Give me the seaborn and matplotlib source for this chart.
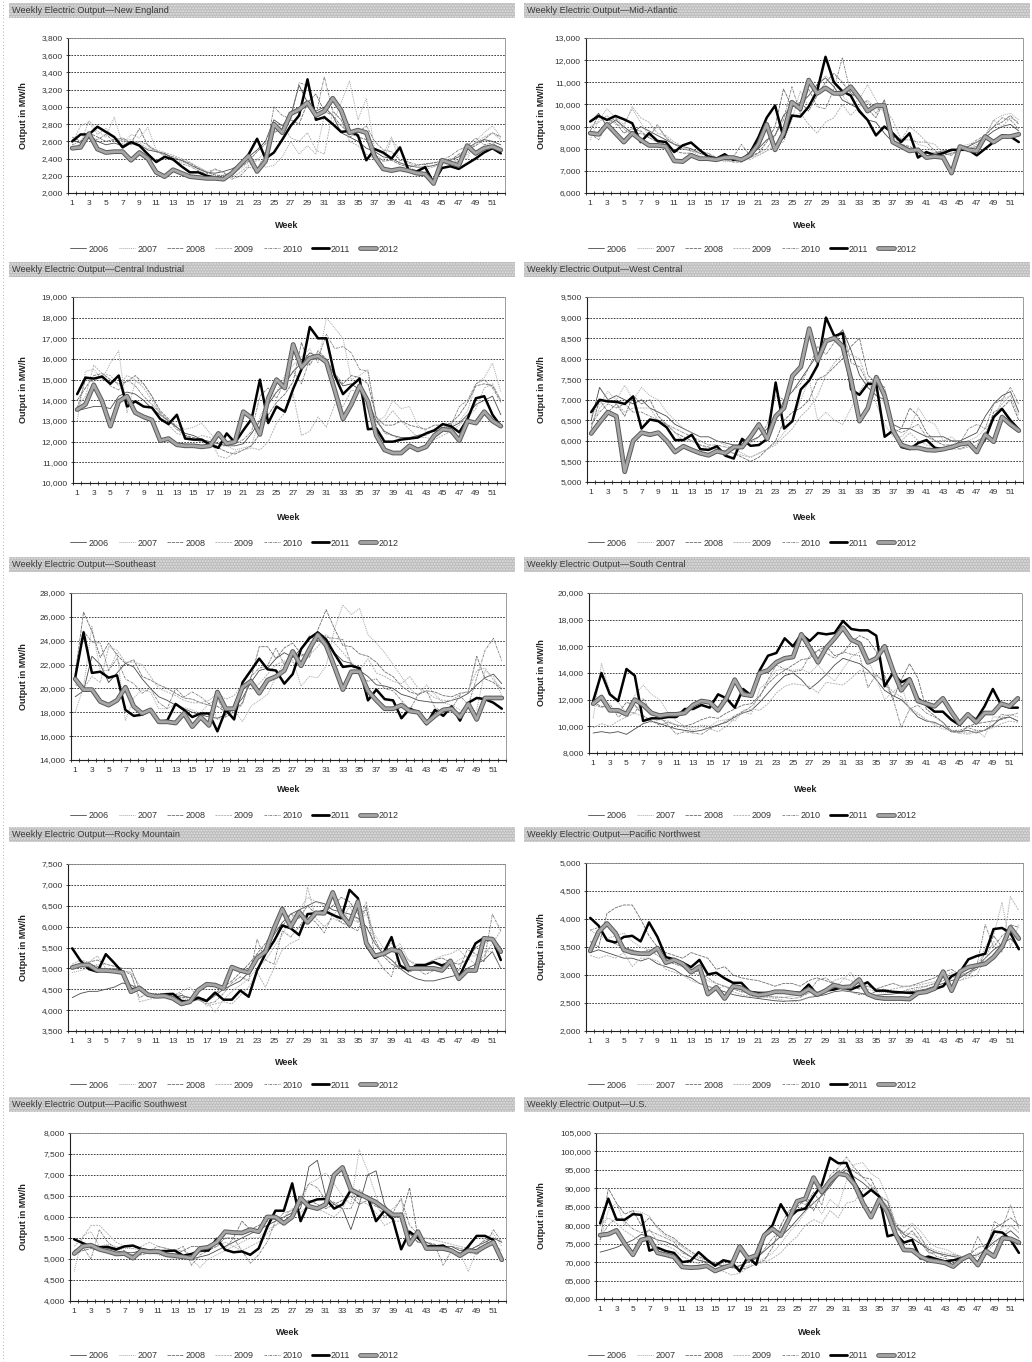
import numpy as np
import matplotlib
matplotlib.use("Agg")
import matplotlib.pyplot as plt
import matplotlib.patheffects as pe
from matplotlib.patches import Rectangle
from matplotlib.lines import Line2D
from matplotlib.ticker import FuncFormatter
import seaborn as sns

# -----------------------------------
# DATA (weekly output, MW/h)
# -----------------------------------

years = [2006, 2007, 2008, 2009, 2010, 2011, 2012]
week_ticks = list(range(1, 52, 2))

ne_2006 = [2620,2580,2640,2600,2560,2580,2550,2600,2560,2500,2480,2460,2400,2380,2330,2280,2240,2230,2250,2280,2330,2420,2500,2600,2850,2780,2900,3250,3050,2950,3000,2900,2700,2650,2600,2520,2480,2420,2400,2350,2320,2300,2300,2320,2350,2380,2420,2520,2580,2620,2600,2560]
ne_2007 = [2500,2580,2840,2720,2650,2880,2560,2680,2640,2760,2500,2420,2380,2360,2330,2300,2250,2200,2210,2230,2280,2350,2400,2300,2320,2420,2600,2450,2550,2450,2900,2800,3050,3300,2850,3100,2500,2450,2650,2350,2300,2260,2320,2310,2340,2330,2380,2400,2600,2700,2780,2650]
ne_2008 = [2650,2600,2700,2650,2600,2620,2640,2580,2750,2550,2480,2450,2420,2380,2350,2290,2240,2210,2200,2240,2300,2370,2480,2570,2700,2750,2850,2800,3050,3150,2950,2900,2780,2700,2650,2620,2450,2370,2380,2330,2300,2320,2340,2350,2360,2380,2450,2500,2550,2620,2700,2650]
ne_2009 = [2580,2780,2820,2680,2750,2640,2600,2620,2580,2520,2500,2470,2440,2400,2360,2300,2250,2270,2240,2180,2240,2320,2380,2480,2700,2800,2640,2600,2700,2500,2450,2950,2850,2600,2550,2450,2400,2380,2620,2500,2350,2300,2280,2300,2350,2400,2360,2450,2580,2650,2700,2620]
ne_2010 = [2560,2600,2650,2620,2680,2600,2620,2560,2600,2560,2490,2440,2380,2340,2310,2260,2220,2280,2240,2160,2200,2300,2280,2440,3000,2900,2860,3280,3250,2900,3350,2950,2850,2650,2700,2780,2600,2500,2480,2380,2360,2330,2330,2350,2380,2430,2500,2540,2640,2560,2580,2520]
ne_2011 = [2600,2680,2680,2770,2710,2650,2530,2590,2550,2450,2360,2420,2390,2310,2240,2240,2200,2180,2170,2220,2320,2450,2630,2400,2470,2620,2780,2900,3320,2850,2880,2800,2710,2720,2670,2380,2510,2470,2400,2530,2270,2250,2300,2120,2290,2310,2280,2340,2400,2470,2520,2460]
ne_2012 = [2520,2530,2690,2510,2470,2480,2480,2380,2470,2400,2240,2190,2270,2230,2190,2180,2170,2170,2160,2230,2330,2430,2250,2370,2800,2700,2920,2970,3050,2900,2950,3100,2960,2700,2730,2700,2420,2280,2260,2280,2260,2230,2220,2110,2380,2350,2320,2550,2460,2520,2540,2500]

ma_2006 = [9200,9600,9000,9300,9000,8700,9000,8800,8600,8400,8200,8100,8000,7800,7700,7600,7500,7500,7600,7700,8000,8400,8600,9500,9900,10000,10400,10900,11200,10800,10200,10000,9800,9300,9200,8700,8300,8200,8000,7900,7800,7800,7900,7900,8000,8100,8300,8500,8800,9000,9100,8800]
ma_2007 = [8400,9300,9800,9400,9100,9800,9200,8600,9000,8500,8200,8000,7900,7700,7800,7600,7400,7500,7400,7600,7700,7900,8200,8300,9300,10600,9900,10800,11300,11000,10400,10000,10200,10900,10200,9600,8600,8400,8600,8200,8100,7800,7800,7700,8100,8200,8300,8600,9300,9500,9600,9300]
ma_2008 = [8800,9500,9300,9200,8700,8900,8800,8500,8300,8200,7900,7800,7800,7600,7600,7500,7500,7400,7400,7600,7800,8300,9000,10700,9900,10100,9700,10400,11000,11400,11000,10500,10300,9800,9400,10200,8600,8200,8100,7900,7700,7700,7700,7800,7900,8000,8100,8600,9000,9200,9500,9100]
ma_2009 = [9000,9200,9500,9100,9000,9900,9400,9200,8700,8600,8300,8100,7900,7800,7700,7600,7500,7500,7600,7500,7700,7900,8100,8700,9400,9600,9100,8700,9200,9400,10000,9500,9900,10200,9800,9800,9300,8400,9000,8700,8300,8200,7800,7800,7900,8000,8200,8500,9300,9000,9400,9200]
ma_2010 = [8700,8400,9100,9400,8900,8600,8700,8500,9100,8500,8200,8000,7900,7900,7800,7600,7600,7600,8200,7700,7800,8000,8600,9300,10800,9600,10700,9900,9800,10700,12100,10500,10200,10100,9600,10200,8700,8400,8400,8300,8300,7900,7800,7700,8000,8100,8400,8600,9000,9400,9300,8900]
ma_2011 = [9230,9480,9300,9480,9330,9150,8300,8700,8350,8300,7850,8150,8280,7950,7650,7550,7750,7500,7500,7800,8500,9400,9950,8500,9500,9450,9900,10600,12150,11000,10600,10400,9700,9300,8600,9000,8700,8300,8700,7600,7850,7700,7800,7950,7950,7950,7700,8000,8300,8600,8550,8300]
ma_2012 = [8700,8650,9100,8700,8300,8700,8400,8150,8150,8100,7450,7420,7700,7550,7550,7500,7600,7600,7500,7700,8200,9100,7950,8700,10100,9800,11100,10500,10750,10500,10500,10800,10300,9700,9950,9950,8300,8100,7900,7950,7600,7650,7600,6900,8100,7950,7900,8550,8300,8550,8550,8650]

ci_2006 = [13500,13600,13700,13700,13600,14200,14400,14300,14000,13600,13300,13000,12700,12400,12300,12100,12000,11900,11800,11800,11900,12400,13000,13800,14400,14800,15400,15800,16300,16100,15900,15200,14700,14800,14500,14000,13000,12500,12300,12200,12200,12300,12400,12500,12600,12700,12900,13300,13800,14000,14200,13300]
ci_2007 = [13000,15400,15500,15000,15800,16400,13400,14900,14800,14200,13300,13000,12800,12600,12700,12900,12400,12000,11800,11600,11700,11800,13200,14000,14400,15200,15700,16100,16500,15800,18000,17500,17000,15000,15200,15500,13000,13200,14000,13600,13700,12800,12500,12500,12600,12800,13000,13500,14800,15100,15800,14400]
ci_2008 = [14000,14600,15200,15300,15000,14800,14900,15200,14800,14200,13500,13100,12700,12300,12200,12100,12000,11700,11500,11400,11600,11800,12400,13300,13900,14300,14900,16800,15700,16400,16000,15300,14800,15200,15100,14800,13200,12800,12800,13000,12800,12700,12600,12800,12800,12900,13300,13900,14700,14800,14700,14000]
ci_2009 = [13700,14200,15700,15300,15200,14700,15200,15000,14600,14000,13400,12800,12400,12300,12100,12300,12200,11300,11200,11500,11600,11700,11600,12000,12900,13400,14300,12300,12500,13200,12700,13800,13700,14500,14400,13600,12800,13000,13500,13000,12600,12200,12200,12100,12300,12500,12800,13200,13600,14600,14800,14000]
ci_2010 = [13600,15000,14900,15200,14700,14500,15000,14700,14200,13800,13400,13000,12600,12300,12100,12000,11900,11800,11800,11900,12100,12500,14200,14600,14100,14900,15400,14800,16000,16000,17200,16500,16600,16300,15500,15400,13200,12400,12300,12100,12100,12300,12300,12600,12700,12800,13700,14000,14800,15000,14600,13900]
ci_2011 = [14300,15100,15050,15150,14800,15200,13700,13950,13700,13650,13100,12850,13300,12150,12100,12100,11850,11700,12400,11950,12550,13100,15000,12900,13700,13450,14550,15500,17550,17000,17000,15200,14300,14700,15050,12600,12650,12000,12000,12100,12150,12200,12400,12550,12850,12750,12450,13100,14100,14200,13300,12750]
ci_2012 = [13550,13800,14750,13950,12750,13950,14200,13400,13200,13050,12050,12150,11850,11800,11800,11750,11800,12400,11900,12000,13450,13150,12350,14100,15000,14600,16700,15600,16050,16150,15850,14500,13100,13800,14700,13950,12300,11600,11450,11450,11800,11600,11750,12300,12600,12550,12050,13000,12900,13450,13000,12750]

wc_2006 = [6500,7300,7000,7100,7000,6900,7000,6800,6700,6600,6400,6300,6200,6100,6100,6000,5950,5900,5900,6000,6100,6300,6500,7000,7200,7500,7800,8100,8400,8500,8700,8200,7600,7300,7100,7000,6400,6300,6300,6200,6100,6100,6100,6000,6000,6100,6200,6600,6900,7100,7200,6700]
wc_2007 = [6600,6900,7200,7000,7350,7000,7300,7100,7000,6700,6500,6300,6200,6100,6100,6000,5900,5800,5700,5600,5700,5800,5950,6200,6500,7000,7500,6500,6700,6500,6400,6800,7200,7500,6900,6400,6100,6100,6300,6800,6500,6400,6000,6100,5900,6000,6100,6300,6500,7000,7100,6900]
wc_2008 = [6300,7000,6700,6900,6600,7100,6900,7000,6600,6400,6200,6100,6000,5900,5850,5800,5750,5700,5600,5500,5600,5800,6000,6500,6700,6800,7000,7500,7600,7800,8000,8300,8500,7600,7400,7100,6200,6300,6800,6600,6200,6000,5900,5900,5800,5900,6000,6100,6700,6800,7000,6500]
wc_2009 = [6400,6800,7000,6900,6700,6800,6800,6800,6500,6400,6200,6000,6000,5900,5800,5800,5750,5700,5650,5600,5700,5800,5900,6100,6300,6600,6800,7100,7600,7900,8100,8100,8000,7400,7200,6900,6200,6000,6200,6000,5900,5850,5800,5800,5800,5850,5900,6200,6600,6900,7100,6600]
wc_2010 = [6400,6700,6900,6800,6900,6700,6700,6600,6500,6400,6300,6200,6100,6000,5900,5900,5850,5800,5900,5950,6100,6400,7100,7000,7200,7400,7800,8300,8100,8400,8700,7900,7800,7400,7500,7300,6300,6200,6300,6400,6100,6000,6000,6000,5950,6300,6400,6300,6900,7000,7300,6900]
wc_2011 = [6700,7000,6960,6950,6900,7080,6300,6520,6480,6330,6020,6020,6150,5800,5780,5870,5640,5570,6050,5880,5900,6050,7420,6300,6480,7250,7470,7840,9000,8550,8620,7250,7120,7390,7380,6100,6250,5850,5800,5950,6020,5830,5800,5830,5900,5950,5750,6050,6580,6780,6500,6280]
wc_2012 = [6180,6450,6700,6600,5250,6000,6200,6150,6200,6000,5730,5870,5780,5700,5650,5750,5700,5850,5850,6100,6400,6050,6600,6800,7580,7800,8730,7950,8430,8500,8300,7480,6480,6800,7550,7100,6250,5900,5830,5830,5780,5770,5800,5850,5920,5950,5730,6150,5980,6580,6400,6250]

se_2006 = [19300,19800,22700,22000,20500,21300,22100,21800,20800,20000,19300,19000,18600,18300,18000,17800,17600,17500,17800,18300,19200,20500,21500,21700,22500,23000,22600,23300,24400,24000,23800,23000,22300,22100,21500,21000,20300,20200,20000,19500,19300,19000,18900,18800,18800,19000,19200,19600,20300,20900,21200,20400]
se_2007 = [18000,20100,25200,21500,21500,23000,17300,19200,19900,19700,18300,18300,18700,18400,18200,17900,18800,17400,17600,18200,17200,18500,19000,19500,21000,22200,22400,20200,21000,20900,21900,25000,27000,26200,26700,24500,23800,23000,22000,21000,20000,19400,20300,19500,18800,18600,18200,18000,18200,21500,21000,19400]
se_2008 = [21200,26400,24800,22600,23800,22800,22100,22400,21000,20700,20300,20000,19600,19200,19100,18800,18600,18500,18000,18200,18800,20800,23500,23500,22500,23400,23800,22900,22600,24900,26600,25000,23600,23500,22900,22700,22200,21400,21000,20200,19700,19500,19800,19700,19400,19300,19600,19700,22700,20800,20500,19900]
se_2009 = [20300,20000,21000,20500,23500,23200,22200,22200,22000,21000,20000,19700,19400,19000,18800,18800,19000,19600,19100,19400,20300,19900,20400,21200,22000,22300,22200,21800,22800,23500,24500,23800,23000,22200,21500,22500,21300,21000,20600,20400,21000,20000,19700,19200,19000,19000,19500,19800,21500,21700,20700,20000]
se_2010 = [21000,24800,23900,23800,21500,22500,20800,20400,19600,20000,18800,18300,20000,19300,19700,19300,18700,19200,17600,18000,18700,21000,21700,21900,23400,22000,23000,22700,23200,24700,24300,24200,24100,22000,21100,20600,20800,20000,19800,19000,18200,19500,19800,18400,18000,18300,19400,18600,20900,23200,24200,22300]
se_2011 = [20900,24700,21300,21400,20900,21100,18200,17700,17800,18200,17200,17300,18700,18200,17600,17900,17900,16400,18200,17400,20500,21500,22500,21600,21500,20400,21200,23300,24200,24700,24100,22900,21800,21900,21700,19000,19900,19100,19000,17500,18300,18000,17000,18200,17700,18500,17300,18800,19200,19100,18800,18300]
se_2012 = [20800,19900,19900,18900,18600,19000,20100,18500,17900,18200,17200,17200,17100,17900,16800,17600,16900,19700,18300,18300,20100,20600,19600,20700,21000,21500,23100,21900,23300,24500,23600,21800,19900,21400,21400,19800,19000,18300,18300,18600,18100,18000,17100,17700,18200,18300,17600,18700,17400,19200,19200,19200]

sc_2006 = [9500,9600,9500,9600,9400,9800,10200,10400,10200,10000,9800,9700,9600,9700,9900,10100,10300,10700,11000,11200,11800,12500,13200,13800,14000,13500,12800,13300,13900,14600,15100,14900,14700,14200,13500,12700,12300,12000,11400,10700,10400,10300,10000,9600,9600,9700,9500,9700,10100,10600,10700,10400]
sc_2007 = [10600,14700,12600,11800,11000,12300,13100,12400,12000,11000,10400,10000,9900,10100,10000,10400,10500,10400,11100,10900,12800,13400,14200,14300,14200,14300,14000,14600,13900,13400,14300,15200,15600,15000,13600,12000,12600,13100,11200,10900,10500,10100,9800,9700,9600,9500,9700,9200,10700,10700,10900,10700]
sc_2008 = [11800,11500,11400,11000,11800,11600,10800,10400,10100,10300,10100,10000,10200,10500,10700,10600,11000,11300,11600,11700,12300,13200,13800,14200,14600,15000,15100,15700,16000,15300,15500,16300,16800,16500,15600,13800,12000,13500,14700,13600,11300,10800,10300,9600,9500,10000,10200,10300,10400,10500,10700,10400]
sc_2009 = [9900,10200,10000,10400,10700,11000,10700,10300,10500,10400,10100,9900,9700,10000,9800,9600,10000,10600,11200,11300,11200,11700,12500,13000,13200,13100,13000,12500,13300,13200,13100,13600,14200,14000,13800,13300,12600,12200,11400,11000,10500,10200,10100,9600,9500,9400,9600,9700,9900,10200,10400,10300]
sc_2010 = [11700,11400,11700,10700,11100,11000,12100,11000,10700,10100,9400,9600,9500,9400,9800,10100,10400,10800,11100,11500,12200,13500,14600,14300,14100,14200,15300,15700,15500,15100,15600,15400,15300,12900,13900,13300,12100,9900,11300,11600,11000,10700,10300,9700,9700,9900,9700,9700,10000,10900,10800,11000]
sc_2011 = [11900,14000,12400,11900,14300,13800,10400,10600,10600,10700,10700,11300,11300,11600,11400,12400,12100,11400,12800,12300,14200,15300,15500,16600,16000,16900,16400,17000,16900,17000,17900,17300,17200,17200,16800,13000,14000,13300,13600,12100,11600,11100,11100,10500,10100,10900,10500,11500,12800,11600,11400,11400]
sc_2012 = [11700,12200,11200,11200,10900,12000,11600,11000,10800,10900,10900,11000,11600,11900,11800,11200,12100,13500,12400,12300,14000,14200,14800,15100,15200,16900,15900,14800,15900,16600,17400,16500,16200,14800,15100,16000,14200,12700,13500,11900,11700,11500,12100,11100,10200,10900,10300,11000,11000,11700,11500,12100]

rm_2006 = [4300,4400,4450,4450,4500,4550,4650,4600,4500,4400,4350,4300,4300,4350,4300,4250,4200,4350,4500,4600,4700,4900,5200,5500,5800,6100,6300,6400,6500,6600,6550,6400,6350,6300,6200,6000,5600,5350,5200,5000,4850,4750,4700,4700,4750,4800,4850,5000,5100,5200,5400,5000]
rm_2007 = [4900,4950,5000,5100,4950,5000,4950,4900,4600,4400,4350,4350,4300,4300,4200,4300,4200,3950,4250,4450,4600,4750,5000,5200,5500,5800,6200,6400,6700,6600,6500,6300,6400,6200,6100,6300,5800,5500,5400,5600,5200,5050,5000,5050,5000,5050,5200,5300,5300,5400,5400,5000]
rm_2008 = [5000,5100,5150,5200,5100,5050,5000,5000,4500,4400,4350,4350,4400,4300,4300,4300,4250,4400,4550,4700,4900,5100,5350,5600,5900,6000,6300,6200,6500,6300,6350,6500,6700,6600,6300,6400,5700,5300,5100,5000,5000,5000,5100,5200,5250,5150,5100,5200,5500,5600,5700,5500]
rm_2009 = [5100,5200,5150,5300,5000,4950,4950,4900,4200,4250,4300,4350,4350,4450,4550,4300,4100,4150,4200,4150,4350,4550,4900,4550,5000,5450,5600,5700,6950,6200,6000,6200,6100,6500,6100,6600,5600,5400,5600,5400,5200,5100,5100,5200,5300,5350,5450,5250,5100,5300,5600,5900]
rm_2010 = [5000,5100,5100,5050,4900,5000,4950,4850,4300,4400,4400,4400,4350,4400,4200,4250,4150,4200,4400,4650,4800,4700,5700,5200,5100,5900,5750,6000,6250,6100,5850,6300,6100,6000,5900,6500,5300,5000,4800,5500,4900,5000,4850,4950,5050,5100,4950,5450,5350,5150,6300,5900]
rm_2011 = [5480,5180,4980,4920,5340,5130,4900,4500,4520,4360,4340,4380,4390,4220,4200,4300,4220,4420,4250,4250,4470,4320,4950,5350,5650,6030,5960,5800,6300,6320,6380,6280,6200,6880,6680,5550,5250,5350,5750,5070,4950,5080,5080,5150,5070,5150,4780,5200,5600,5730,5700,5200]
rm_2012 = [5020,5080,5080,4950,4950,4930,4900,4440,4530,4370,4330,4340,4280,4150,4200,4480,4620,4600,4520,5030,4950,4900,5250,5400,5950,6420,6000,6350,6100,6330,6320,6820,6300,6050,6600,5600,5300,5350,5450,5400,5000,5000,5000,5000,4950,5180,4750,4950,4950,5720,5700,5400]

pnw_2006 = [3400,3450,3400,3350,3300,3300,3250,3300,3200,3150,3100,3000,2950,2850,2800,2750,2700,2650,2620,2600,2580,2560,2540,2530,2540,2550,2600,2620,2650,2700,2720,2700,2680,2650,2640,2650,2660,2680,2700,2720,2750,2800,2850,2900,2950,3050,3150,3300,3450,3550,3650,3500]
pnw_2007 = [3800,3700,3650,3700,3750,3600,3500,3450,3400,3300,3200,3150,3050,3000,2900,2850,2800,2750,2700,2700,2650,2620,2600,2600,2620,2650,2680,2700,2720,2760,2900,3050,2800,2750,2700,2680,2700,2700,2720,2750,2800,2850,2950,3000,2900,3000,3100,3500,3700,4300,3500,3900]
pnw_2008 = [3600,3500,4100,4200,4250,4250,4000,3700,3500,3400,3350,3300,3400,3350,3300,3100,3150,3000,2950,2920,2900,2850,2800,2850,2850,2800,2900,2950,2900,2850,2800,2800,2750,2800,2750,2800,2850,2800,2800,2850,2900,2950,3050,3100,3000,3050,3100,3400,3700,3500,3900,3850]
pnw_2009 = [3350,3300,3350,3300,3400,3150,3300,3300,3250,3100,3050,3000,2900,2850,2800,2750,2800,2700,2650,2620,2600,2600,2580,2550,2520,2540,2600,2650,2700,2900,2950,2900,2850,2800,2750,2720,2750,2780,2800,2820,2850,2880,2950,3050,2900,2950,3000,3300,3600,3400,4400,4150]
pnw_2010 = [3800,3850,3650,3550,3500,3450,3400,3450,3350,3250,3200,3150,3100,3050,2950,2850,2800,2750,2700,2680,2650,2630,2610,2600,2580,2600,2680,2900,2950,2850,2750,2700,2650,2650,2700,2750,2700,2700,2750,2780,2800,2850,2900,2950,2980,3000,3150,3900,3500,3700,3800,3700]
pnw_2011 = [4020,3880,3620,3580,3680,3700,3600,3940,3680,3320,3280,3220,3140,3270,3010,3040,2940,2860,2860,2700,2680,2680,2700,2700,2690,2680,2830,2650,2720,2740,2780,2740,2800,2870,2720,2720,2700,2690,2680,2680,2700,2750,2800,2980,3050,3280,3340,3380,3820,3840,3750,3460]
pnw_2012 = [3430,3770,3920,3750,3450,3400,3380,3380,3480,3220,3270,3200,3050,3150,2660,2780,2580,2800,2770,2680,2640,2660,2700,2700,2680,2660,2750,2650,2720,2820,2780,2790,2920,2660,2600,2580,2580,2580,2570,2680,2700,2760,3060,2720,3060,3140,3170,3200,3320,3500,3850,3650]

psw_2006 = [5200,5300,5350,5300,5250,5200,5150,5150,5200,5200,5150,5150,5100,5050,5000,5050,5100,5200,5300,5400,5500,5600,5700,5800,5900,6000,6100,6200,7200,7350,6500,6300,6200,5700,6300,7000,7100,6300,6000,6100,5600,5400,5400,5300,5300,5300,5200,5200,5300,5400,5500,5400]
psw_2007 = [4700,5550,5650,5300,5350,5300,5250,5250,5200,5150,5100,5050,5000,5050,5000,4800,5000,5100,5200,5300,5400,5500,5500,5700,5800,5900,6000,6300,6800,6900,7050,6800,6500,6300,7600,7100,6500,6000,6200,6400,5500,5400,5350,5300,5250,5200,5150,4700,5200,5500,5600,5300]
psw_2008 = [5100,5200,5250,5200,5200,5150,5100,5100,5100,5150,5150,5100,5100,5200,5300,5300,5200,5300,5500,5500,5900,5700,5800,5900,5950,5900,6000,6300,6400,6300,6200,6300,6400,6500,6300,6400,6250,6200,6000,6000,6700,5500,5400,5350,5250,5300,5250,5200,5300,5450,5500,5400]
psw_2009 = [5300,5500,5800,5800,5600,5400,5300,5250,5300,5400,5300,5250,5200,5200,5100,5150,5250,5300,5400,5300,5200,5300,5400,5600,5800,6000,6200,6100,6300,6200,6100,6000,6200,6600,6400,6300,6100,5800,5900,5900,5600,5500,5500,5450,5400,5350,5300,5250,5200,5300,5350,5200]
psw_2010 = [5100,5300,5000,5700,5400,5250,5200,5050,5150,5200,5300,5250,5200,5300,4850,5100,5200,5400,5250,5500,5200,4900,5100,5400,5900,6100,6150,6450,6800,6700,6400,6350,6200,6200,6650,6450,6300,6000,6100,6450,5800,5600,5300,5350,4850,5200,5150,5300,5100,5300,5700,5400]
psw_2011 = [5470,5380,5300,5280,5290,5230,5300,5320,5240,5200,5190,5190,5200,5080,5120,5200,5200,5480,5220,5160,5180,5100,5250,5750,6150,6150,6800,5900,6350,6420,6430,6200,6300,6650,6500,6480,5900,6150,5950,5230,5650,5500,5300,5300,5320,5200,5080,5300,5550,5550,5450,4990]
psw_2012 = [5130,5300,5330,5230,5180,5120,5130,5020,5200,5170,5180,5100,5080,5050,5020,5250,5280,5400,5650,5630,5620,5700,5650,6000,6000,5850,6000,6450,6250,6200,6300,7000,7180,6650,6550,6450,6350,6200,6050,6050,5350,5650,5250,5250,5250,5200,5080,5200,5180,5300,5400,4980]

us_2006 = [72700,73300,74000,75000,76000,77500,77000,76000,75500,74500,73000,71500,70500,70000,69500,69000,68500,69000,70000,71000,73000,75000,77000,79000,81500,84000,86000,88000,90500,93500,95000,93000,91500,89500,87500,85000,80000,77500,76500,75000,73500,72500,72000,71500,71200,71500,72000,73500,75500,77000,78500,76500]
us_2007 = [75500,84000,86000,80000,84000,83500,82500,79000,77000,76000,74000,72500,71000,70500,70000,69500,69000,68500,69000,70000,71000,72500,75000,78000,80500,83500,86500,83000,87000,85000,92000,96500,97000,94000,92500,87500,80500,79500,80500,78500,75500,74000,73500,72500,71500,71500,72500,73000,76500,79500,80000,78000]
us_2008 = [76000,90000,86000,83000,84000,80000,82000,79500,77500,76500,74500,73000,71500,70500,69500,69000,68500,68000,68500,69500,70500,74000,80000,84000,85000,87000,84000,88500,91000,93500,96000,94500,93000,92500,88000,86500,80000,76500,78500,75500,72500,72500,71500,72000,71500,72000,74000,74500,79000,80500,82000,80000]
us_2009 = [80000,82000,80500,78500,77000,75500,79000,75500,74500,73500,71500,70500,69500,68500,68000,67500,66500,67000,68500,69500,70000,71000,72500,75000,77000,80000,81500,80500,84000,82000,86000,86500,89500,91000,88000,85000,80000,78000,77500,76500,74000,73000,72500,72000,71500,71000,71500,72500,75000,77000,80000,78000]
us_2010 = [76500,80000,82000,81000,79000,78000,78500,77500,76500,75500,72500,71500,70500,70000,69500,69000,68500,69000,70000,71000,73500,76500,78500,82500,87000,85500,89000,85500,93500,95500,98500,95500,93000,90500,87500,86500,79000,78000,80000,77000,73000,71500,71000,70500,71000,71500,77000,73000,81000,79500,85500,79000]
us_2011 = [80500,87200,81500,81500,83000,82800,73100,73900,73000,72500,70000,70300,72700,70700,69000,70500,70000,67500,71500,69300,77500,80000,85700,82000,84000,84500,87900,91000,98300,96800,96900,91500,87800,89600,87800,77000,77600,75300,76000,71000,71500,70800,70200,70500,71000,71500,69800,73800,78300,78000,76000,72500]
us_2012 = [77300,77600,78600,75000,72000,76000,76500,72500,72000,71400,68700,68500,68600,69000,67600,68500,69200,74200,71000,71800,77300,79000,77200,81700,86500,87200,92900,89000,92000,94000,93600,91000,86000,82200,87000,83500,77500,73300,73200,71500,70500,70200,69800,68800,70700,71800,69200,73000,71500,76500,76300,75300]

# -----------------------------------
# PANELS (title, series, y range, step)
# -----------------------------------

panels = [
    ("New England", [ne_2006, ne_2007, ne_2008, ne_2009, ne_2010, ne_2011, ne_2012], 2000, 3800, 200),
    ("Mid-Atlantic", [ma_2006, ma_2007, ma_2008, ma_2009, ma_2010, ma_2011, ma_2012], 6000, 13000, 1000),
    ("Central Industrial", [ci_2006, ci_2007, ci_2008, ci_2009, ci_2010, ci_2011, ci_2012], 10000, 19000, 1000),
    ("West Central", [wc_2006, wc_2007, wc_2008, wc_2009, wc_2010, wc_2011, wc_2012], 5000, 9500, 500),
    ("Southeast", [se_2006, se_2007, se_2008, se_2009, se_2010, se_2011, se_2012], 14000, 28000, 2000),
    ("South Central", [sc_2006, sc_2007, sc_2008, sc_2009, sc_2010, sc_2011, sc_2012], 8000, 20000, 2000),
    ("Rocky Mountain", [rm_2006, rm_2007, rm_2008, rm_2009, rm_2010, rm_2011, rm_2012], 3500, 7500, 500),
    ("Pacific Northwest", [pnw_2006, pnw_2007, pnw_2008, pnw_2009, pnw_2010, pnw_2011, pnw_2012], 2000, 5000, 500),
    ("Pacific Southwest", [psw_2006, psw_2007, psw_2008, psw_2009, psw_2010, psw_2011, psw_2012], 4000, 8000, 500),
    ("U.S.", [us_2006, us_2007, us_2008, us_2009, us_2010, us_2011, us_2012], 60000, 105000, 5000),
]

# plot boxes in pixels: left, top, right, bottom
boxes = [
    (68, 38, 505, 193), (586, 38, 1023, 193),
    (73, 297, 505, 483), (587, 297, 1023, 482),
    (71, 593, 506, 760), (589, 593, 1022, 753),
    (68, 864, 505, 1031), (586, 863, 1023, 1031),
    (70, 1133, 506, 1301), (596, 1133, 1023, 1299),
]
bar_rows = [(3, 18), (262, 277), (557, 572), (827, 842), (1097, 1112)]
week_rows = [221, 513, 785, 1058, 1328]
legend_rows = [249, 543, 816, 1085, 1356]

styles = {
    2006: dict(color="#4a4a4a", lw=0.6, ls="-"),
    2007: dict(color="#a8a8a8", lw=0.7, ls=(0, (1, 1))),
    2008: dict(color="#6e6e6e", lw=0.6, ls=(0, (4, 1))),
    2009: dict(color="#b4b4b4", lw=0.7, ls=(0, (2, 1))),
    2010: dict(color="#7a7a7a", lw=0.6, ls=(0, (3, 1, 1, 1))),
    2011: dict(color="black", lw=1.8, ls="-"),
    2012: dict(color="#a6a6a6", lw=2.0, ls="-"),
}
rope = [pe.Stroke(linewidth=3.4, foreground="#5a5a5a"), pe.Normal()]

# -----------------------------------
# FIGURE
# -----------------------------------

sns.set_theme(style="white")
plt.rcParams["font.family"] = ["Liberation Sans", "DejaVu Sans"]
plt.rcParams["hatch.linewidth"] = 0.9

W, H = 1032, 1362
fig = plt.figure(figsize=(W / 100, H / 100), dpi=100)
fig.patch.set_facecolor("white")

# dotted page edge on the left
fig.add_artist(Line2D([3 / W, 3 / W], [0, 1], transform=fig.transFigure,
                      color="#999999", lw=0.6, ls=(0, (1, 3))))

comma = FuncFormatter(lambda v, p: f"{v:,.0f}")

for i, (name, series, ymin, ymax, step) in enumerate(panels):
    row, col = divmod(i, 2)
    l, t, r, b = boxes[i]

    # title bar
    x0 = 9 if col == 0 else 524
    x1 = 515 if col == 0 else 1030
    bt, bb = bar_rows[row]
    fig.add_artist(Rectangle((x0 / W, 1 - bb / H), (x1 - x0) / W, (bb - bt) / H,
                             transform=fig.transFigure, facecolor="#bdbdbd",
                             edgecolor="#e2e2e2", hatch="......", lw=0))
    fig.text((x0 + 3) / W, 1 - (bt + bb) / 2 / H, "Weekly Electric Output\u2014" + name,
             fontsize=6.6, color="#3a3a3a", va="center", ha="left")

    ax = fig.add_axes([l / W, 1 - b / H, (r - l) / W, (b - t) / H])
    ax.set_facecolor("white")

    for year, vals in zip(years, series):
        st = styles[year]
        wk = np.arange(1, len(vals) + 1)
        sns.lineplot(x=wk, y=vals, ax=ax, color=st["color"], linewidth=st["lw"],
                     linestyle=st["ls"], legend=False, zorder=3 if year < 2011 else 4)
        if year == 2012:
            ax.lines[-1].set_path_effects(rope)

    ax.set_xlim(0.5, 52.5)
    ax.set_ylim(ymin, ymax)
    ax.set_yticks(np.arange(ymin, ymax + step / 2, step))
    ax.yaxis.set_major_formatter(comma)
    ax.set_xticks(week_ticks)
    ax.set_xticks(np.arange(0.5, 53, 1), minor=True)

    ax.yaxis.grid(True, color="#222222", ls=(0, (2, 1.5)), lw=0.6)
    ax.xaxis.grid(False)
    ax.set_axisbelow(True)

    ax.tick_params(axis="y", which="major", length=3.5, width=0.6, direction="inout",
                   labelsize=6, labelcolor="#333333", pad=2, left=True)
    ax.tick_params(axis="x", which="major", length=0, labelsize=6,
                   labelcolor="#333333", pad=5)
    ax.tick_params(axis="x", which="minor", length=3.5, width=0.6, direction="inout",
                   bottom=True)

    for side in ["left", "bottom"]:
        ax.spines[side].set_color("#222222")
        ax.spines[side].set_linewidth(0.8)
    for side in ["top", "right"]:
        ax.spines[side].set_color("#8c8c8c")
        ax.spines[side].set_linewidth(0.6)
        ax.spines[side].set_linestyle((0, (1, 1)))

    ax.set_xlabel("Week", fontsize=6.5, fontweight="bold", color="#222222")
    ax.xaxis.set_label_coords((l + r) / 2 / W, 1 - week_rows[row] / H,
                              transform=fig.transFigure)
    ax.set_ylabel("Output in MW/h", fontsize=6.5, fontweight="bold", color="#222222")
    ylx = 28 if col == 0 else 546
    ax.yaxis.set_label_coords(ylx / W, 1 - (t + b) / 2 / H, transform=fig.transFigure)

    handles = []
    for year in years:
        st = styles[year]
        h = Line2D([], [], color=st["color"], lw=st["lw"] if year < 2011 else 2.0,
                   ls=st["ls"])
        if year == 2012:
            h.set_path_effects(rope)
        handles.append(h)
    lx = 70 if col == 0 else 588
    ax.legend(handles, [str(y) for y in years], loc="center left",
              bbox_to_anchor=(lx / W, 1 - legend_rows[row] / H),
              bbox_transform=fig.transFigure, ncol=7, frameon=False,
              fontsize=6.5, handlelength=1.8, handletextpad=0.25,
              columnspacing=1.1, borderpad=0, borderaxespad=0,
              labelcolor="#333333")

plt.savefig("out.png", dpi=100, facecolor="white")
